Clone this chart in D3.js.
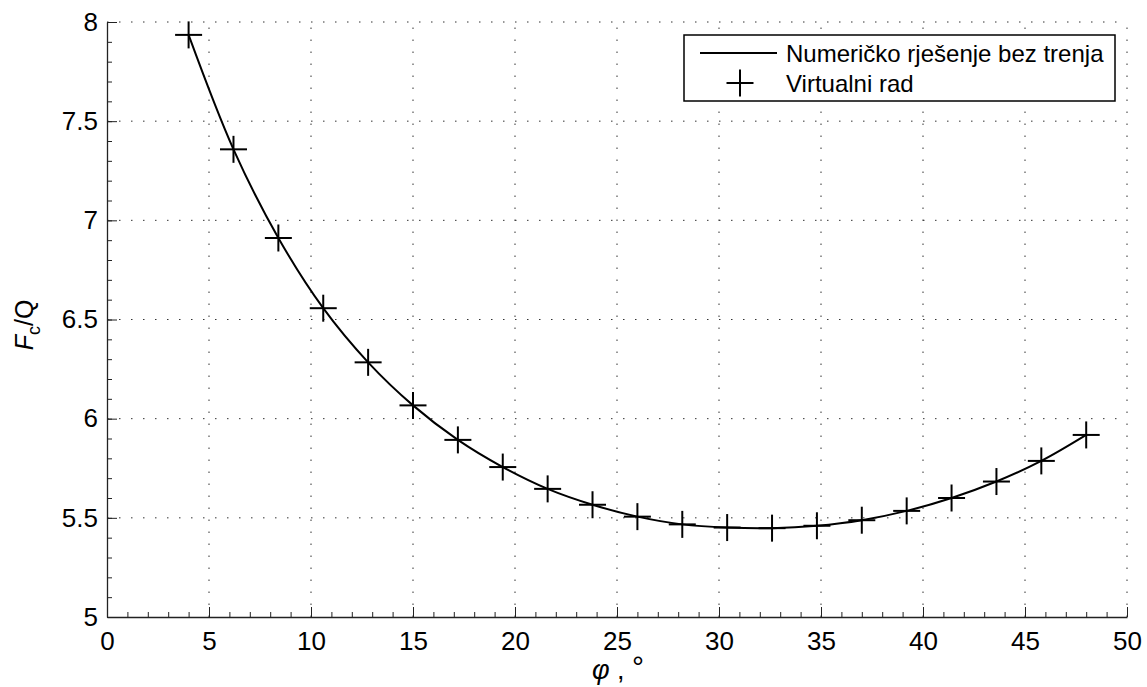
<!DOCTYPE html>
<html>
<head>
<meta charset="utf-8">
<script src="https://cdn.jsdelivr.net/npm/d3@7"></script>
<style>
  html, body { margin: 0; padding: 0; background: #fff; }
  svg text { font-family: "Liberation Sans", Arial, sans-serif; }
</style>
</head>
<body>
<svg id="chart" width="1147" height="687"></svg>
<script>
// ---- data ----
const phi = [4, 6.2, 8.4, 10.6, 12.8, 15, 17.2, 19.4, 21.6, 23.8, 26, 28.2, 30.4, 32.6, 34.8, 37, 39.2, 41.4, 43.6, 45.8, 48];
const numericalFcQ = [7.935, 7.358, 6.911, 6.557, 6.284, 6.067, 5.893, 5.756, 5.646, 5.566, 5.506, 5.467, 5.451, 5.448, 5.460, 5.488, 5.535, 5.600, 5.683, 5.787, 5.918];
const virtualWorkFcQ = [7.935, 7.358, 6.911, 6.557, 6.284, 6.067, 5.893, 5.756, 5.646, 5.566, 5.506, 5.467, 5.451, 5.448, 5.460, 5.488, 5.535, 5.600, 5.683, 5.787, 5.918];
const xTicks = [0, 5, 10, 15, 20, 25, 30, 35, 40, 45, 50];
const yTicks = [5, 5.5, 6, 6.5, 7, 7.5, 8];
const legendLabels = ["Numeričko rješenje bez trenja", "Virtualni rad"];

(function () {
// ---- layout ----
const svg = d3.select("#chart");
const pl = 107, pr = 1127, pt = 22, pb = 617;
const x = d3.scaleLinear().domain([0, 50]).range([pl, pr]);
const y = d3.scaleLinear().domain([5, 8]).range([pb, pt]);
const tickFont = 26, legendFont = 24;

// grid
const grid = svg.append("g").attr("stroke", "#333").attr("stroke-width", 1)
  .attr("stroke-dasharray", "1.5,10.5").attr("fill", "none");
xTicks.filter(t => t > 0).forEach(t => {
  grid.append("line").attr("x1", x(t)).attr("x2", x(t)).attr("y1", pb).attr("y2", pt);
});
yTicks.filter(t => t > 5).forEach(t => {
  grid.append("line").attr("x1", pl).attr("x2", pr).attr("y1", y(t)).attr("y2", y(t));
});

// axes
const xAxis = d3.axisBottom(x).tickValues(xTicks).tickSizeInner(-10).tickSizeOuter(0).tickPadding(14.5)
  .tickFormat(d3.format("d"));
svg.append("g").attr("transform", `translate(0,${pb})`).call(xAxis);
const yAxis = d3.axisLeft(y).tickValues(yTicks).tickSizeInner(-10).tickSizeOuter(0).tickPadding(9)
  .tickFormat(d => d3.format("")(d));
svg.append("g").attr("transform", `translate(${pl},0)`).call(yAxis);

// minor ticks
const xMinor = d3.axisBottom(x).tickValues(d3.range(0, 51, 1)).tickSizeInner(-5).tickSizeOuter(0).tickFormat("");
svg.append("g").attr("transform", `translate(0,${pb})`).call(xMinor).select(".domain").remove();
const yMinor = d3.axisLeft(y).tickValues(d3.range(50, 81, 1).map(v => v / 10)).tickSizeInner(-5).tickSizeOuter(0).tickFormat("");
svg.append("g").attr("transform", `translate(${pl},0)`).call(yMinor).select(".domain").remove();

svg.selectAll(".domain").attr("stroke", "#222").attr("stroke-width", 1.3);
svg.selectAll(".tick line").attr("stroke", "#222").attr("stroke-width", 1);
svg.selectAll(".tick text").attr("font-size", tickFont).attr("fill", "#000")
  .attr("font-family", "Liberation Sans, Arial, sans-serif");

// line
const line = d3.line().x((d, i) => x(phi[i])).y(d => y(d)).curve(d3.curveCatmullRom);
svg.append("path").datum(numericalFcQ).attr("d", line)
  .attr("fill", "none").attr("stroke", "#000").attr("stroke-width", 2);

// markers
const ms = 13.5;
const markers = svg.append("g").attr("stroke", "#000").attr("stroke-width", 2);
virtualWorkFcQ.forEach((v, i) => {
  const cx = x(phi[i]), cy = y(v);
  markers.append("line").attr("x1", cx - ms).attr("x2", cx + ms).attr("y1", cy).attr("y2", cy);
  markers.append("line").attr("x1", cx).attr("x2", cx).attr("y1", cy - ms).attr("y2", cy + ms);
});

// legend
const lg = svg.append("g");
lg.append("rect").attr("x", 684).attr("y", 35).attr("width", 431).attr("height", 66)
  .attr("fill", "#fff").attr("stroke", "#000").attr("stroke-width", 1.5);
lg.append("line").attr("x1", 700).attr("x2", 777).attr("y1", 53).attr("y2", 53)
  .attr("stroke", "#000").attr("stroke-width", 2);
lg.append("line").attr("x1", 740 - ms).attr("x2", 740 + ms).attr("y1", 83).attr("y2", 83)
  .attr("stroke", "#000").attr("stroke-width", 2);
lg.append("line").attr("x1", 740).attr("x2", 740).attr("y1", 83 - ms).attr("y2", 83 + ms)
  .attr("stroke", "#000").attr("stroke-width", 2);
lg.append("text").attr("x", 786).attr("y", 62).attr("font-size", legendFont).text(legendLabels[0]);
lg.append("text").attr("x", 786).attr("y", 92).attr("font-size", legendFont).text(legendLabels[1]);

// axis labels
const xl = svg.append("text").attr("x", 618).attr("y", 679).attr("text-anchor", "middle")
  .attr("font-size", 27).attr("font-family", "Liberation Serif, Times New Roman, serif");
xl.append("tspan").attr("font-style", "italic").text("φ");
xl.append("tspan").text(" , ");
xl.append("tspan").attr("font-size", 30).attr("dy", -2).text("°");

const yl = svg.append("text").attr("transform", "translate(33,325) rotate(-90)").attr("text-anchor", "middle")
  .attr("font-size", 25);
yl.append("tspan").attr("font-style", "italic").text("F");
yl.append("tspan").attr("font-size", 18).attr("dy", 7).text("c");
yl.append("tspan").attr("dy", -7).text("/Q");
})();
</script>
</body>
</html>
